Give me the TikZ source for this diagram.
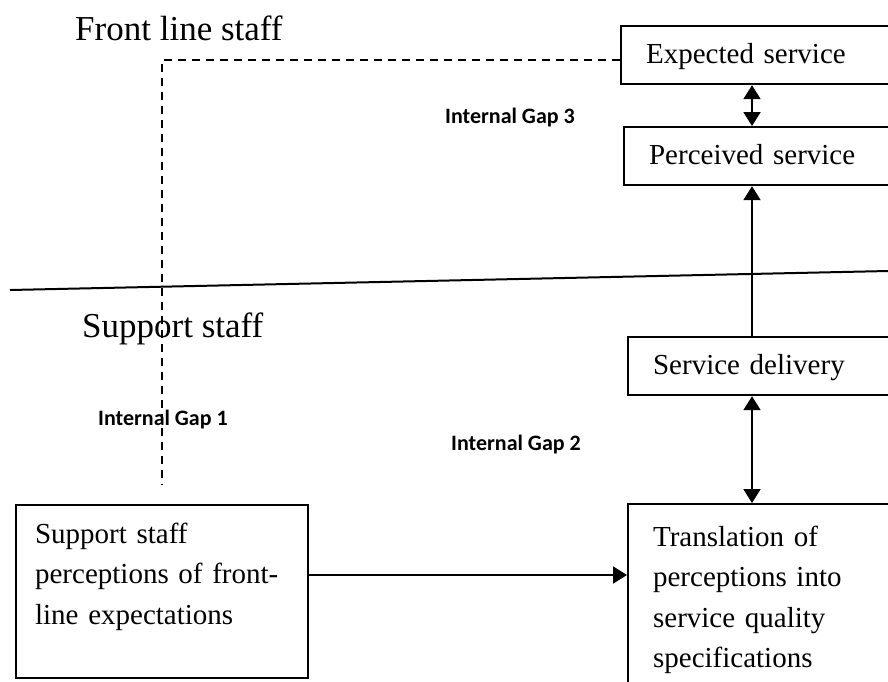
\documentclass[tikz,border=0pt]{standalone}
\usepackage{fontspec}
\setmainfont{Liberation Serif}
\newfontfamily\gapfont{Carlito}
\usetikzlibrary{arrows.meta, positioning, calc}
\tikzset{
    stagebox/.style={draw, line width=2.2pt, anchor=north west, align=left,
        text width=260pt, inner xsep=25pt, inner ysep=0pt,
        font=\fontsize{29}{40.5}\selectfont},
    onebox/.style={stagebox, text height=37pt, text depth=21pt},
    arr/.style={line width=2pt, -{Triangle[length=14pt,width=17pt]}},
    dbl/.style={line width=2pt, {Triangle[length=14pt,width=17pt]}-{Triangle[length=14pt,width=17pt]}},
    dashline/.style={line width=2.4pt, dash pattern=on 8pt off 6pt},
    staffname/.style={anchor=base west, inner sep=0pt, font=\fontsize{35}{40}\selectfont},
    gaplabel/.style={anchor=base west, inner sep=0pt, font=\gapfont\bfseries\fontsize{22}{26}\selectfont}
}

\begin{document}
\begin{tikzpicture}[x=1pt, y=-1pt]
    \clip (0,0) rectangle (888,681);
    \fill[white] (0,0) rectangle (888,681);

    % boxes
    \node[onebox] (expected) at (620,25) {Expected service};
    \node[onebox] (perceived) at (623,126) {Perceived service};
    \node[onebox] (delivery) at (627,336) {Service delivery};
    \node[stagebox, text height=42pt, text depth=160pt] (translation) at (627,503)
        {Translation of\\perceptions into\\service quality\\specifications};
    \node[stagebox, text height=38pt, text depth=135pt, text width=254pt, inner xsep=19pt] (supportperc) at (15,504)
        {Support staff\\perceptions of front-\\line expectations};

    % labels
    \node[staffname] (frontline) at (75,40) {Front line staff};
    \node[staffname] (supportlbl) at (82,337) {Support staff};
    \node[gaplabel] (gapthree) at (445,123) {Internal Gap 3};
    \node[gaplabel] (gaptwo) at (451,450) {Internal Gap 2};
    \node[gaplabel] (gapone) at (98,425) {Internal Gap 1};

    % divider between front line and support staff
    \coordinate (divL) at (10,290);
    \coordinate (divR) at (888,271);
    \draw[line width=2pt] (divL) -- (divR);

    % connectors
    \coordinate (axis) at (752,0);
    \coordinate (midrow) at (0,575);
    \coordinate (dashend) at (162,485);
    \draw[dbl] (expected.south -| axis) -- (perceived.north -| axis);
    \draw[arr] (delivery.north -| axis) -- (perceived.south -| axis);
    \draw[dbl] (delivery.south -| axis) -- (translation.north -| axis);
    \draw[arr] (supportperc.east |- midrow) -- (translation.west |- midrow);
    \draw[dashline] ([yshift=-5pt]expected.west) -| (dashend);
\end{tikzpicture}
\end{document}
